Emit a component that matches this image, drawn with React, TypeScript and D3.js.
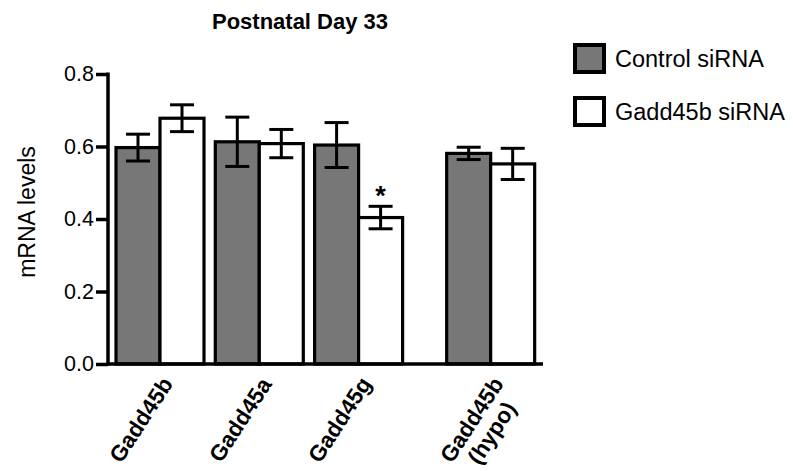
import { useRef, useEffect } from 'react'
import * as d3 from 'd3'

const genes = ['Gadd45b', 'Gadd45a', 'Gadd45g', 'Gadd45b\n(hypo)']
const controlMean = [0.597, 0.613, 0.604, 0.581]
const controlSem = [0.037, 0.068, 0.062, 0.017]
const sirnaMean = [0.678, 0.608, 0.404, 0.552]
const sirnaSem = [0.037, 0.039, 0.031, 0.043]
const significant = [false, false, true, false]
const yTicks = [0.0, 0.2, 0.4, 0.6, 0.8]
const seriesNames = ['Control siRNA', 'Gadd45b siRNA']
const seriesFill = ['#777777', '#ffffff']

const FONT = 'Liberation Sans, Arial, Helvetica, sans-serif'

function App() {
  const containerRef = useRef<HTMLDivElement>(null)

  useEffect(() => {
    if (!containerRef.current) return
    const container = containerRef.current
    container.innerHTML = ''

    const width = 793
    const height = 471
    const axisX = 108
    const axisRight = 543

    const svg = d3.select(container)
      .append('svg')
      .attr('width', width)
      .attr('height', height)
      .style('position', 'absolute')
      .style('left', '0px')
      .style('top', '0px')
      .style('background', '#fff')

    const y = d3.scaleLinear().domain([0, 0.8]).range([364, 74])

    // groups: even spacing, the last one pushed a bit further right
    const slot = (i: number) => i + (i === 3 ? 0.33 : 0)
    const groupX = d3.scaleLinear().domain([0, 1]).range([116, 215.3])
    const barW = 44

    const rows = genes.map((g, i) => ({
      gene: g,
      x0: groupX(slot(i)),
      vals: [
        { m: controlMean[i], s: controlSem[i], k: 0 },
        { m: sirnaMean[i], s: sirnaSem[i], k: 1 }
      ],
      sig: significant[i]
    }))

    // bars
    rows.forEach(r => {
      r.vals.forEach(v => {
        const bx = r.x0 + v.k * barW
        svg.append('rect')
          .attr('x', bx)
          .attr('y', y(v.m))
          .attr('width', barW)
          .attr('height', y(0) - y(v.m))
          .attr('fill', seriesFill[v.k])
          .attr('stroke', '#000')
          .attr('stroke-width', 3.2)
      })
    })

    // error bars
    rows.forEach(r => {
      r.vals.forEach(v => {
        const cx = r.x0 + v.k * barW + barW / 2
        const g = svg.append('g').attr('stroke', '#000').attr('stroke-width', 3)
        g.append('line').attr('x1', cx).attr('x2', cx).attr('y1', y(v.m - v.s)).attr('y2', y(v.m + v.s))
        g.append('line').attr('x1', cx - 12).attr('x2', cx + 12).attr('y1', y(v.m + v.s)).attr('y2', y(v.m + v.s))
        g.append('line').attr('x1', cx - 12).attr('x2', cx + 12).attr('y1', y(v.m - v.s)).attr('y2', y(v.m - v.s))
        if (v.k === 1 && r.sig) {
          svg.append('text')
            .attr('x', cx)
            .attr('y', y(v.m + v.s) - 1)
            .attr('text-anchor', 'middle')
            .attr('font-family', FONT)
            .attr('font-weight', 'bold')
            .attr('font-size', 27)
            .text('*')
        }
      })
    })

    // Y axis
    const yAxis = svg.append('g')
      .attr('transform', `translate(${axisX},0)`)
      .call(d3.axisLeft(y).tickValues(yTicks).tickFormat(d3.format('.1f')).tickSize(12).tickSizeOuter(0))
    yAxis.select('.domain').attr('stroke-width', 3.5).attr('d', `M0,${y(0) + 1.5}V${y(0.8) - 1.5}`)
    yAxis.selectAll('.tick line').attr('stroke-width', 3.5)
    yAxis.selectAll('.tick text')
      .attr('x', -14)
      .attr('font-family', FONT)
      .attr('font-size', 21.5)
      .attr('fill', '#000')

    // X axis line
    svg.append('line')
      .attr('x1', axisX - 1.5)
      .attr('x2', axisRight)
      .attr('y1', y(0))
      .attr('y2', y(0))
      .attr('stroke', '#000')
      .attr('stroke-width', 3.5)

    // category labels
    rows.forEach(r => {
      const lx = r.x0 + barW - 12.5
      const t = svg.append('text')
        .attr('transform', `translate(${lx},${424}) rotate(-57)`)
        .attr('text-anchor', 'middle')
        .attr('font-family', FONT)
        .attr('font-weight', 'bold')
        .attr('font-size', 22.5)
      r.gene.split('\n').forEach((line, li) => {
        t.append('tspan').attr('x', 0).attr('dy', li === 0 ? 0 : 24).text(line)
      })
    })

    // Y axis label
    svg.append('text')
      .attr('transform', `translate(35,212) rotate(-90)`)
      .attr('text-anchor', 'middle')
      .attr('font-family', FONT)
      .attr('font-size', 23)
      .text('mRNA levels')

    // title
    svg.append('text')
      .attr('x', 300)
      .attr('y', 29)
      .attr('text-anchor', 'middle')
      .attr('font-family', FONT)
      .attr('font-weight', 'bold')
      .attr('font-size', 22)
      .text('Postnatal Day 33')

    // legend
    seriesNames.forEach((name, i) => {
      const ly = 45 + i * 53
      svg.append('rect')
        .attr('x', 575)
        .attr('y', ly)
        .attr('width', 29)
        .attr('height', 27)
        .attr('fill', seriesFill[i])
        .attr('stroke', '#000')
        .attr('stroke-width', 4)
      svg.append('text')
        .attr('x', 615)
        .attr('y', ly + 13.5 + 8.5)
        .attr('font-family', FONT)
        .attr('font-size', 23.5)
        .text(name)
    })
  }, [])

  return <div ref={containerRef} />
}

export default App
